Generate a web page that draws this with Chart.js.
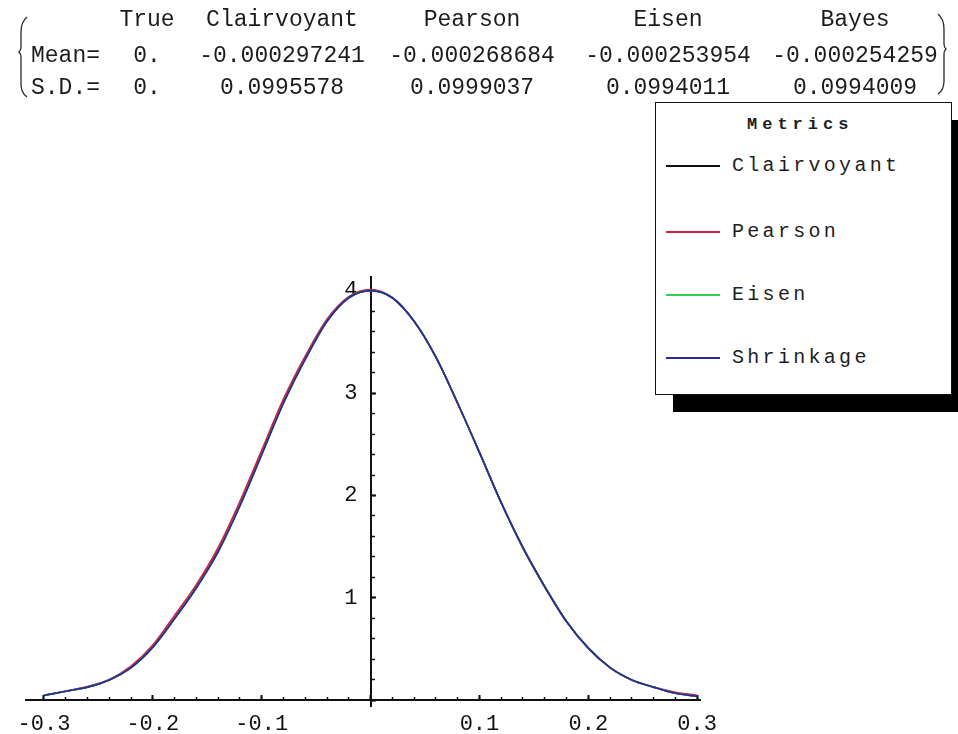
<!DOCTYPE html>
<html>
<head>
<meta charset="utf-8">
<script src="https://cdn.jsdelivr.net/npm/chart.js@4/dist/chart.umd.min.js"></script>
<style>
html, body { margin:0; padding:0; background:#fff; width:958px; height:734px; overflow:hidden; position:relative; }
#c { position:absolute; left:0; top:0; }
.tt { position:absolute; font-family:"Liberation Mono","Courier New",monospace; font-size:23px; line-height:23px; color:#1c1c1c; white-space:pre; }
#legendShadow { position:absolute; left:673px; top:120px; width:296px; height:292px; background:#000; }
#legendBox { position:absolute; left:655px; top:102px; width:295px; height:291px; background:#fff; border:1.5px solid #111; }
.lg { position:absolute; font-family:"Liberation Mono","Courier New",monospace; font-size:20px; line-height:20px; letter-spacing:3.3px; color:#1e1e1e; white-space:pre; }
.lgline { position:absolute; height:1.6px; width:54px; }
#parens { position:absolute; left:0; top:0; }
</style>
</head>
<body>
<canvas id="c" width="958" height="734"></canvas>
<svg id="parens" width="958" height="110">
  <path d="M27 17 Q21 22 21 32 L21 47 Q21 50 19 52 Q21 54 21 57 L21 84 Q21 93 27 97" fill="none" stroke="#2a2a2a" stroke-width="1.3"/>
  <path d="M938 14 Q944 19 944 29 L944 44 Q944 47 946 49 Q944 51 944 54 L944 81 Q944 90 938 94" fill="none" stroke="#2a2a2a" stroke-width="1.3"/>
</svg>
<div id="table"></div>
<div id="legendShadow"></div>
<div id="legendBox"></div>
<div id="legendItems"></div>
<script>
// ---- summary table ----
const statHeaders = ['True', 'Clairvoyant', 'Pearson', 'Eisen', 'Bayes'];
const statRowLabels = ['Mean=', 'S.D.='];
const meanValues = ['0.', '-0.000297241', '-0.000268684', '-0.000253954', '-0.000254259'];
const sdValues = ['0.', '0.0995578', '0.0999037', '0.0994011', '0.0994009'];

// ---- legend ----
const legendTitle = 'Metrics';
const seriesNames = ['Clairvoyant', 'Pearson', 'Eisen', 'Shrinkage'];
const seriesColors = ['#111111', '#d0203a', '#30d050', '#2a2a9c'];

// ---- curve data (density vs. value) ----
const xValues = [-0.30, -0.28, -0.26, -0.24, -0.22, -0.20, -0.18, -0.16, -0.14, -0.12, -0.10,
                 -0.08, -0.06, -0.04, -0.02, 0.00, 0.02, 0.04, 0.06, 0.08, 0.10,
                 0.12, 0.14, 0.16, 0.18, 0.20, 0.22, 0.24, 0.26, 0.28, 0.30];
const clairvoyantY = [0.05, 0.09, 0.13, 0.20, 0.32, 0.52, 0.80, 1.10, 1.46, 1.90, 2.40,
                      2.91, 3.33, 3.70, 3.93, 4.00, 3.93, 3.70, 3.35, 2.90, 2.42,
                      1.93, 1.49, 1.11, 0.77, 0.51, 0.32, 0.20, 0.13, 0.07, 0.04];
const pearsonY = [0.05, 0.09, 0.135, 0.205, 0.335, 0.54, 0.83, 1.13, 1.49, 1.94, 2.44,
                  2.94, 3.36, 3.72, 3.94, 4.01, 3.93, 3.70, 3.35, 2.90, 2.42,
                  1.93, 1.49, 1.11, 0.77, 0.51, 0.32, 0.20, 0.13, 0.08, 0.05];
const eisenY = [0.05, 0.09, 0.13, 0.20, 0.32, 0.52, 0.80, 1.10, 1.45, 1.90, 2.40,
                2.90, 3.33, 3.70, 3.93, 4.00, 3.93, 3.70, 3.35, 2.90, 2.42,
                1.93, 1.49, 1.11, 0.77, 0.51, 0.32, 0.20, 0.13, 0.07, 0.04];
const shrinkageY = [0.05, 0.09, 0.13, 0.20, 0.32, 0.52, 0.80, 1.10, 1.45, 1.90, 2.40,
                    2.90, 3.33, 3.70, 3.93, 4.00, 3.93, 3.70, 3.35, 2.90, 2.42,
                    1.93, 1.49, 1.11, 0.77, 0.51, 0.32, 0.20, 0.13, 0.07, 0.04];
const seriesValues = [clairvoyantY, pearsonY, eisenY, shrinkageY];

// ---- axis tick settings ----
const xMajorStep = 0.1, xMinorStep = 0.02;
const yMajorStep = 1, yMinorStep = 0.2;
const xRange = [-0.3163, 0.3026];
const yRange = [-0.054, 4.132];

// build table
(function () {
  const t = document.getElementById('table');
  const colCenters = [147, 282, 472, 668, 855];
  const baselines = [27, 63, 95];
  const ascentOffset = 17.6;
  function put(text, x, baseline, align) {
    const d = document.createElement('div');
    d.className = 'tt';
    d.textContent = text;
    d.style.top = (baseline - ascentOffset) + 'px';
    if (align === 'center') { d.style.left = x + 'px'; d.style.transform = 'translateX(-50%)'; }
    else d.style.left = x + 'px';
    t.appendChild(d);
  }
  statHeaders.forEach((h, i) => put(h, colCenters[i], baselines[0], 'center'));
  put(statRowLabels[0], 31, baselines[1], 'left');
  put(statRowLabels[1], 31, baselines[2], 'left');
  meanValues.forEach((v, i) => put(v, colCenters[i], baselines[1], 'center'));
  sdValues.forEach((v, i) => put(v, colCenters[i], baselines[2], 'center'));
})();

// build legend
(function () {
  const L = document.getElementById('legendItems');
  const title = document.createElement('div');
  title.className = 'lg';
  title.textContent = legendTitle;
  title.style.fontSize = '17px';
  title.style.fontWeight = 'bold';
  title.style.letterSpacing = '5px';
  title.style.left = '747px';
  title.style.top = (128 - 13) + 'px';
  L.appendChild(title);
  const lineYs = [166, 232, 295, 358];
  seriesNames.forEach((n, i) => {
    const ln = document.createElement('div');
    ln.className = 'lgline';
    ln.style.left = '666px';
    ln.style.top = (lineYs[i] - 0.8) + 'px';
    ln.style.background = seriesColors[i];
    L.appendChild(ln);
    const tx = document.createElement('div');
    tx.className = 'lg';
    tx.textContent = n;
    tx.style.left = '732px';
    tx.style.top = (lineYs[i] + 5.5 - 15.3) + 'px';
    L.appendChild(tx);
  });
})();

const axisFont = { family: "'Liberation Mono', 'Courier New', monospace", size: 22 };
const axisColor = '#111111';

// Shrinkage drawn last (on top), Clairvoyant first (underneath)
const datasets = seriesNames.map((name, i) => ({
  label: name,
  data: xValues.map((x, j) => ({ x: x, y: seriesValues[i][j] })),
  borderColor: seriesColors[i],
  borderWidth: 1.7,
  pointRadius: 0,
  fill: false,
  order: seriesNames.length - 1 - i,
  cubicInterpolationMode: 'monotone'
}));

new Chart(document.getElementById('c'), {
  type: 'line',
  data: { datasets: datasets },
  options: {
    responsive: false,
    animation: false,
    events: [],
    layout: { padding: { left: 21, right: 258, top: 277, bottom: 28 } },
    plugins: { legend: { display: false }, tooltip: { enabled: false } },
    scales: {
      x: {
        type: 'linear', min: xRange[0], max: xRange[1], position: { y: 0 },
        ticks: {
          stepSize: xMajorStep, includeBounds: false, maxTicksLimit: 100, autoSkip: false, maxRotation: 0,
          font: axisFont, color: axisColor, padding: 17,
          callback: v => Math.abs(v) < 1e-9 ? '' : Number(v).toFixed(1)
        },
        grid: { drawOnChartArea: false, drawTicks: true, tickLength: -6, tickWidth: 2, tickColor: axisColor },
        border: { display: true, color: axisColor, width: 2 }
      },
      x2: {
        type: 'linear', min: xRange[0], max: xRange[1], position: { y: 0 },
        ticks: { stepSize: xMinorStep, includeBounds: false, maxTicksLimit: 100, autoSkip: false, display: false },
        grid: { drawOnChartArea: false, drawTicks: true, tickLength: -3, tickWidth: 1.5, tickColor: axisColor },
        border: { display: false }
      },
      y: {
        type: 'linear', min: yRange[0], max: yRange[1], position: { x: 0 },
        ticks: {
          stepSize: yMajorStep, includeBounds: false, maxTicksLimit: 100, autoSkip: false,
          font: axisFont, color: axisColor,
          callback: v => Math.abs(v) < 1e-9 ? '' : String(Math.round(v)) + ' '
        },
        grid: { drawOnChartArea: false, drawTicks: true, tickLength: -6, tickWidth: 2, tickColor: axisColor },
        border: { display: true, color: axisColor, width: 2 }
      },
      y2: {
        type: 'linear', min: yRange[0], max: yRange[1], position: { x: 0 },
        ticks: { stepSize: yMinorStep, includeBounds: false, maxTicksLimit: 100, autoSkip: false, display: false },
        grid: { drawOnChartArea: false, drawTicks: true, tickLength: -4, tickWidth: 1.5, tickColor: axisColor },
        border: { display: false }
      }
    }
  }
});
</script>
</body>
</html>
